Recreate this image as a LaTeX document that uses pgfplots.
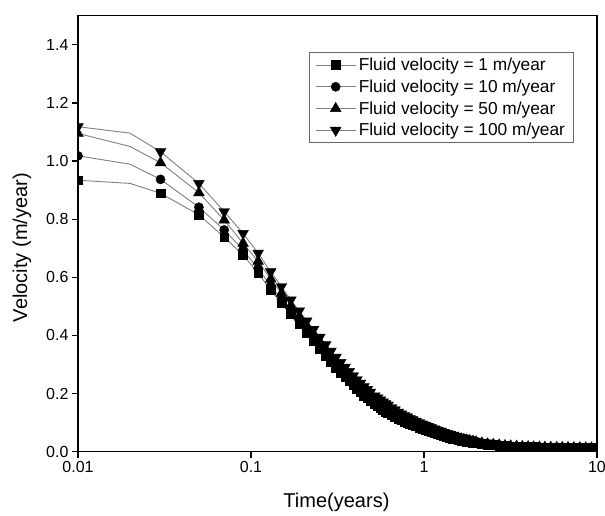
\documentclass[border=0pt]{standalone}
\usepackage{pgfplots}
\pgfplotsset{compat=1.18}
\usepackage{pgfplotstable}
\usepackage{fontspec}
\setmainfont{Liberation Sans}
\definecolor{linegray}{gray}{0.5}
\pgfplotstableread{
x a b c d
0.01 0.934 1.018 1.095 1.118
0.02 0.923 0.989 1.050 1.096
0.03 0.889 0.937 0.994 1.032
0.05 0.815 0.841 0.891 0.923
0.07 0.738 0.763 0.797 0.826
0.09 0.677 0.694 0.717 0.751
0.11 0.614 0.630 0.655 0.683
0.13 0.556 0.571 0.594 0.619
0.15 0.511 0.524 0.545 0.568
0.17 0.474 0.486 0.503 0.522
0.19 0.440 0.453 0.466 0.484
0.21 0.408 0.421 0.433 0.450
0.23 0.380 0.392 0.405 0.421
0.25 0.355 0.366 0.378 0.394
0.27 0.330 0.341 0.353 0.368
0.29 0.309 0.320 0.331 0.346
0.31 0.289 0.300 0.311 0.325
0.33 0.272 0.282 0.293 0.307
0.35 0.257 0.267 0.277 0.291
0.37 0.243 0.252 0.262 0.276
0.39 0.229 0.239 0.248 0.261
0.41 0.216 0.226 0.235 0.248
0.43 0.205 0.214 0.223 0.236
0.45 0.194 0.203 0.212 0.224
0.47 0.185 0.193 0.202 0.214
0.49 0.176 0.184 0.193 0.205
0.52 0.164 0.172 0.181 0.192
0.54 0.158 0.166 0.174 0.185
0.56 0.151 0.159 0.167 0.178
0.58 0.145 0.153 0.161 0.171
0.60 0.139 0.147 0.155 0.165
0.62 0.135 0.142 0.150 0.160
0.65 0.127 0.134 0.141 0.151
0.68 0.121 0.127 0.134 0.144
0.71 0.114 0.121 0.127 0.136
0.74 0.109 0.115 0.121 0.130
0.77 0.104 0.110 0.116 0.124
0.80 0.101 0.106 0.112 0.120
0.83 0.096 0.101 0.107 0.114
0.86 0.092 0.097 0.103 0.110
0.90 0.088 0.093 0.098 0.105
0.94 0.083 0.088 0.093 0.100
0.98 0.079 0.084 0.089 0.095
1.02 0.075 0.080 0.085 0.091
1.06 0.072 0.076 0.081 0.087
1.10 0.068 0.072 0.077 0.083
1.15 0.064 0.068 0.072 0.078
1.20 0.061 0.064 0.068 0.074
1.25 0.058 0.061 0.065 0.071
1.30 0.054 0.058 0.061 0.066
1.35 0.051 0.055 0.058 0.063
1.40 0.049 0.052 0.055 0.060
1.46 0.046 0.049 0.052 0.057
1.52 0.043 0.046 0.049 0.053
1.58 0.041 0.044 0.047 0.051
1.64 0.039 0.041 0.044 0.048
1.70 0.037 0.039 0.042 0.046
1.77 0.035 0.037 0.040 0.043
1.84 0.033 0.035 0.038 0.041
1.92 0.032 0.033 0.036 0.039
2.00 0.030 0.032 0.034 0.036
2.16 0.028 0.029 0.030 0.033
2.33 0.025 0.026 0.027 0.030
2.52 0.023 0.024 0.025 0.027
2.72 0.021 0.022 0.023 0.025
2.94 0.020 0.020 0.021 0.023
3.17 0.019 0.019 0.020 0.021
3.43 0.018 0.018 0.019 0.020
3.70 0.017 0.017 0.018 0.019
4.00 0.0165 0.0168 0.0171 0.0175
4.30 0.0160 0.0163 0.0166 0.0170
4.65 0.0156 0.0158 0.0160 0.0164
5.00 0.0152 0.0154 0.0156 0.0159
5.40 0.0148 0.0150 0.0151 0.0153
5.85 0.0145 0.0146 0.0147 0.0149
6.30 0.0142 0.0143 0.0144 0.0145
6.80 0.0140 0.0140 0.0141 0.0142
7.35 0.0137 0.0137 0.0138 0.0139
7.95 0.0135 0.0135 0.0136 0.0136
8.60 0.0133 0.0133 0.0133 0.0134
9.30 0.0131 0.0131 0.0131 0.0132
10.0 0.0130 0.0130 0.0130 0.0130
}\data
\pgfplotsset{mylegend/.style={legend image code/.code={%
  \draw[linegray, line width=0.9pt] (0pt,0pt) -- (40pt,0pt);
  \draw[##1] plot coordinates {(20pt,0pt)};}}}
\begin{document}
\begin{tikzpicture}
\begin{axis}[
  name=ax,
  scale only axis,
  width=519pt, height=436pt,
  xmode=log, xmin=0.01, xmax=10, ymin=0, ymax=1.5,
  xtick={0.01,0.1,1,10}, xticklabels={0.01,0.1,1,10},
  ytick={0,0.2,0.4,0.6,0.8,1.0,1.2,1.4},
  yticklabels={0.0,0.2,0.4,0.6,0.8,1.0,1.2,1.4},
  xminorticks=false, yminorticks=false,
  tick align=outside, tick pos=left,
  major tick length=6pt,
  axis line style={line width=1.2pt},
  every tick/.style={black, line width=1.2pt},
  tick label style={font=\fontsize{16}{19}\selectfont},
  xlabel={Time(years)}, ylabel={Velocity (m/year)},
  every axis x label/.style={at={(axis description cs:0.498,-0.116)}, anchor=center, font=\fontsize{20}{24}\selectfont},
  every axis y label/.style={at={(axis description cs:-0.108,0.468)}, anchor=center, rotate=90, font=\fontsize{20}{24}\selectfont},
  clip marker paths=true,
  legend style={at={(0.9557,0.9167)}, anchor=north east, draw=black!60, line width=0.8pt,
    font=\fontsize{17.3}{20}\selectfont, row sep=2.5pt, inner xsep=6pt, inner ysep=3pt,
    nodes={inner sep=2.6pt}},
  legend cell align=left,
]
\addplot[linegray, line width=0.9pt, forget plot] table[x=x,y=a]{\data};
\addplot[linegray, line width=0.9pt, forget plot] table[x=x,y=b]{\data};
\addplot[linegray, line width=0.9pt, forget plot] table[x=x,y=c]{\data};
\addplot[linegray, line width=0.9pt, forget plot] table[x=x,y=d]{\data};
\addplot[black, only marks, mylegend, mark=square*, mark size=4.4pt,
  mark options={solid, black, fill=black, line width=0.4pt},
  skip coords between index={1}{2}] table[x=x,y=a]{\data};
\addlegendentry{Fluid velocity = 1 m/year}
\addplot[black, only marks, mylegend, mark=*, mark size=4.6pt,
  mark options={solid, black, fill=black, line width=0.4pt},
  skip coords between index={1}{2}] table[x=x,y=b]{\data};
\addlegendentry{Fluid velocity = 10 m/year}
\addplot[black, only marks, mylegend, mark=triangle*, mark size=6.2pt,
  mark options={solid, black, fill=black, line width=0.4pt},
  skip coords between index={1}{2}] table[x=x,y=c]{\data};
\addlegendentry{Fluid velocity = 50 m/year}
\addplot[black, only marks, mylegend, mark=triangle*, mark size=6.2pt,
  mark options={solid, black, fill=black, line width=0.4pt, rotate=180},
  skip coords between index={1}{2}] table[x=x,y=d]{\data};
\addlegendentry{Fluid velocity = 100 m/year}
\end{axis}
\pgfresetboundingbox
\path[use as bounding box] ([xshift=-78pt,yshift=-63.3pt]ax.south west) rectangle ([xshift=8pt,yshift=15.7pt]ax.north east);
\end{tikzpicture}
\end{document}
